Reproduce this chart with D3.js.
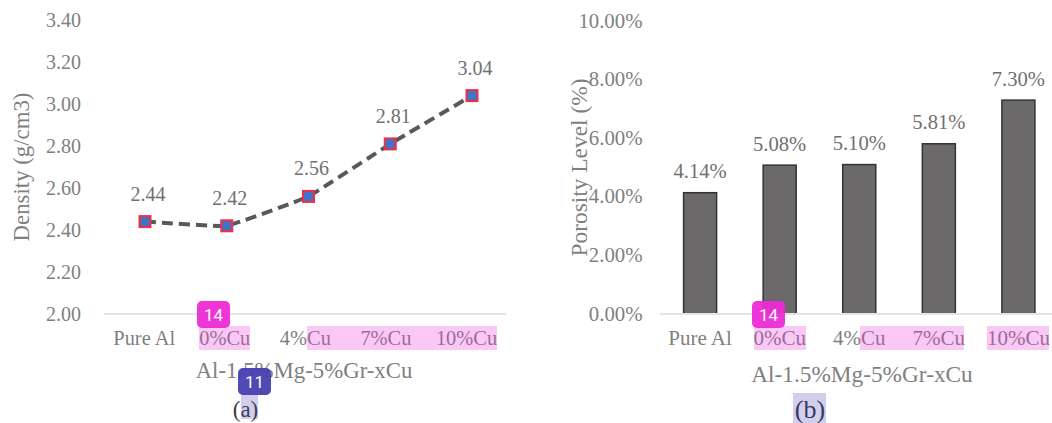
<!DOCTYPE html>
<html><head><meta charset="utf-8">
<script src="https://cdnjs.cloudflare.com/ajax/libs/d3/7.8.5/d3.min.js"></script>
<style>html,body{margin:0;background:#fff}svg{display:block}
text{font-family:"Liberation Serif",serif;}</style></head>
<body><svg id="c" width="1052" height="423"></svg>
<script>
const categories=["Pure Al","0%Cu","4%Cu","7%Cu","10%Cu"];
const density=[2.44,2.42,2.56,2.81,3.04];
const porosity=[4.14,5.08,5.10,5.81,7.30];
const densityTicks=[2.0,2.2,2.4,2.6,2.8,3.0,3.2,3.4];
const porosityTicks=[0,2,4,6,8,10];
const svg=d3.select("#c");
const grey="#7f7f7f", dark="#595959";
const T=(x,y,s,size,fill,anchor)=>svg.append("text").attr("x",x).attr("y",y).text(s)
  .attr("font-size",size).attr("fill",fill).attr("text-anchor",anchor||"middle");

// left chart
const xL=d3.scalePoint().domain(categories).range([145,472]);
const xLabels=d3.scalePoint().domain(categories).range([144.2,466.5]);
const yL=d3.scaleLinear().domain([2,3.4]).range([314,20]);
svg.append("line").attr("x1",104).attr("x2",506).attr("y1",yL(2)).attr("y2",yL(2)).attr("stroke","#e4e4e4").attr("stroke-width",2);
densityTicks.forEach(t=>T(81,yL(t)+6.5,t.toFixed(2),20,grey,"end"));
categories.forEach(c=>T(xLabels(c),344.5,c,20.4,grey));
T(304,378,"Al-1.5%Mg-5%Gr-xCu",22.8,grey);
T(245.5,417,"(a)",23,"#3a3a48");
svg.append("text").attr("transform","translate(29,167) rotate(-90)").attr("text-anchor","middle").attr("font-size",22.8).attr("fill",grey).text("Density (g/cm3)");
svg.append("path").attr("d",d3.line().x((d,i)=>xL(categories[i])).y(d=>yL(d)).curve(d3.curveCardinal.tension(0.75))(density))
  .attr("fill","none").attr("stroke",dark).attr("stroke-width",4).attr("stroke-dasharray","11 6");
density.forEach((d,i)=>{
  const x=xL(categories[i]),y=yL(d);
  svg.append("rect").attr("x",x-5.5).attr("y",y-5.5).attr("width",11).attr("height",11).attr("fill","#4472c4").attr("stroke","#ee2f45").attr("stroke-width",2);
  T(x+3,y-21,d.toFixed(2),20,"#707070");
});

// right chart
const xR=d3.scaleBand().domain(categories).range([660.5,1058]).paddingInner(0.585).paddingOuter(0.29);
const yR=d3.scaleLinear().domain([0,10]).range([314,21]);
porosityTicks.forEach(t=>T(642.5,yR(t)+6.5,t.toFixed(2)+"%",20.8,grey,"end"));
svg.append("text").attr("transform","translate(587,167.5) rotate(-90)").attr("text-anchor","middle").attr("font-size",23.4).attr("fill",grey).text("Porosity Level (%)");
porosity.forEach((d,i)=>{
  const c=categories[i];
  svg.append("rect").attr("x",xR(c)).attr("y",yR(d)).attr("width",xR.bandwidth()).attr("height",yR(0)-yR(d)).attr("fill","#6b6969").attr("stroke","#333").attr("stroke-width",1.5);
  T(xR(c)+xR.bandwidth()/2,yR(d)-14.5,d.toFixed(2)+"%",20.6,"#707070");
  T(xR(c)+xR.bandwidth()/2,344.5,c,21,grey);
});
svg.append("line").attr("x1",660).attr("x2",1052).attr("y1",yR(0)).attr("y2",yR(0)).attr("stroke","#e4e4e4").attr("stroke-width",2);
T(862,382,"Al-1.5%Mg-5%Gr-xCu",23.3,grey);
T(810,417.5,"(b)",26,"#33334a");

// overlay annotations
const pink="rgba(238,51,217,0.27)", violet="rgba(76,71,179,0.26)";
[[199,326,51,24,pink],[307,326,190,24,pink],[754,326,52,24,pink],[860,326,104,24,pink],[987,326,62,24,pink],[241,393,17,26,violet],[793,393,33,30,violet]]
 .forEach(r=>svg.append("rect").attr("x",r[0]).attr("y",r[1]).attr("width",r[2]).attr("height",r[3]).attr("fill",r[4]));
const badge=(x,y,s,f)=>{
  svg.append("rect").attr("x",x).attr("y",y).attr("width",33).attr("height",27).attr("rx",5).attr("fill",f);
  svg.append("text").attr("x",x+16.5).attr("y",y+19.5).attr("text-anchor","middle").attr("font-size",17).attr("fill","#fff").style("font-family","Roboto, sans-serif").text(s);
};
badge(197,301,"14","rgba(236,42,214,0.95)");
badge(752,301,"14","rgba(236,42,214,0.95)");
badge(238,368,"11","rgba(70,64,176,0.95)");
</script></body></html>
